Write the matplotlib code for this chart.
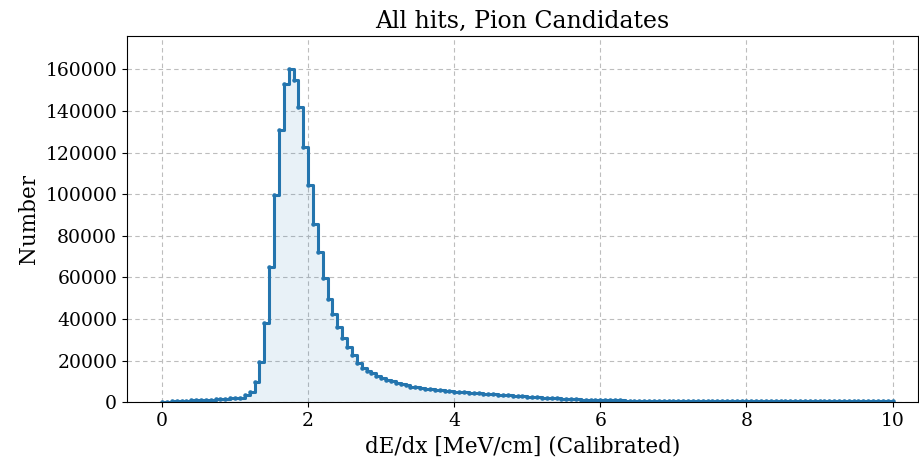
import numpy as np
import matplotlib
matplotlib.use("Agg")
import matplotlib.pyplot as plt

plt.rcParams['font.family'] = ['DejaVu Serif']

# histogram: 150 bins of width 1/15 from 0 to 10
bin_lo = 0.0
bin_hi = 10.0
n_bins = 150

# counts, bin by bin
rise = [200, 300, 400, 500, 600, 700, 800, 900, 1000, 1100,
        1200, 1300, 1500, 1700, 1800, 2000, 2200, 3400, 5000, 9800,
        19400]
peak = [38000, 65000, 99500, 130800, 153000, 160000, 154800, 142000, 122700, 104300,
        85900, 72300, 59500, 49800, 42600, 36200, 30600, 26600, 22600, 18600,
        16200]
tail = [15000, 13800, 12800, 11800, 10800, 10000, 9200, 8500, 8000, 7500,
        7100, 6800, 6500, 6200, 6000, 5700, 5500, 5300, 5100, 4900,
        4700, 4500, 4300, 4200, 4000, 3900, 3700, 3500, 3400, 3200,
        3000, 2900, 2800, 2600, 2500, 2300, 2200, 2100, 2000, 1800,
        1600, 1500, 1400, 1300, 1200, 1150, 1100, 1050, 1000, 950,
        900, 850, 800, 780, 760, 740, 720, 700, 680, 660,
        650, 640, 630, 620, 610, 600, 590, 580, 570, 560,
        550, 540, 530, 520, 510, 500, 490, 480, 470, 460,
        450, 445, 440, 435, 430, 425, 420, 415, 410, 405,
        400, 395, 390, 385, 380, 375, 370, 365, 360, 355,
        350, 345, 340, 335, 330, 325, 320, 315]

counts = np.array(rise + peak + tail, dtype=float)
edges = np.linspace(bin_lo, bin_hi, n_bins + 1)

fig, ax = plt.subplots(figsize=(9.2, 4.58), dpi=100)

ax.stairs(counts, edges, fill=True, color='#1f77b4', alpha=0.1, linewidth=0)
ax.step(edges, np.append(counts, counts[-1]), where='post', color='#2475ae',
        linewidth=2.2, marker='.', markersize=4.5)

ax.set_xlim(-0.48, 10.35)
ax.set_ylim(0, 176000)
ax.set_yticks(np.arange(0, 160001, 20000))
ax.grid(True, linestyle=(0, (4, 3)), color='#bdbdbd', linewidth=0.8)
ax.set_axisbelow(True)
ax.tick_params(labelsize=13.5)

ax.set_title('All hits, Pion Candidates', fontsize=17)
ax.set_xlabel('dE/dx [MeV/cm] (Calibrated)', fontsize=15.5)
ax.set_ylabel('Number', fontsize=15.5)

fig.subplots_adjust(left=0.138, right=0.998, top=0.921, bottom=0.122)
fig.savefig('out.png')
